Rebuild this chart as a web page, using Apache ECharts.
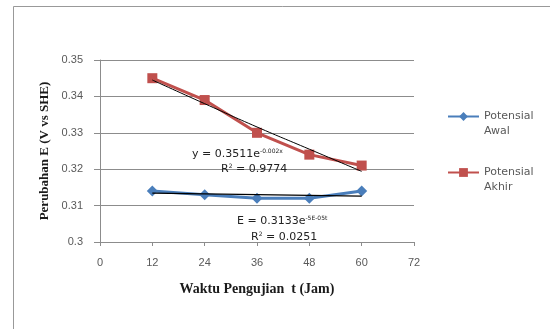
<!DOCTYPE html>
<html><head><meta charset="utf-8">
<script src="https://cdn.jsdelivr.net/npm/echarts@6/dist/echarts.min.js"></script>
<style>html,body{margin:0;padding:0;background:#fff}#c{width:550px;height:329px}</style>
</head><body><div id="c"></div>
<script>
var hours = [12, 24, 36, 48, 60];
var awal = [0.314, 0.313, 0.312, 0.312, 0.314];
var akhir = [0.345, 0.339, 0.330, 0.324, 0.321];
var trendAkhir = [0.3445, 0.3380, 0.3316, 0.3255, 0.3194];
var trendAwal = [0.3134, 0.3132, 0.3130, 0.3128, 0.3126];
var xTicks = [0, 12, 24, 36, 48, 60, 72];
var yTicks = [0.3, 0.31, 0.32, 0.33, 0.34, 0.35];
var names = ['Potensial Awal', 'Potensial Akhir'];

function pairs(xs, ys){ return xs.map(function(x,i){ return [x, ys[i]]; }); }

var chart = echarts.init(document.getElementById('c'), null, {renderer:'canvas'});
var grey = '#8c8c8c';
var annFont = {fontFamily:'DejaVu Sans', fontSize:11, fill:'#222'};
var supFont = {fontFamily:'DejaVu Sans', fontSize:6, fill:'#222', padding:[0,0,6,0]};
chart.setOption({
  animation:false,
  backgroundColor:'#fff',
  grid:{left:100, top:60, right:136, bottom:87},
  xAxis:{
    type:'value', min:xTicks[0], max:xTicks[xTicks.length-1], interval:12,
    name:'Waktu Pengujian  t (Jam)', nameLocation:'middle', nameGap:40,
    nameTextStyle:{fontFamily:'Liberation Serif', fontWeight:'bold', fontSize:14, color:'#1a1a1a'},
    axisLine:{lineStyle:{color:grey, width:1}},
    axisTick:{show:true, length:4, lineStyle:{color:grey}},
    axisLabel:{color:'#595959', fontFamily:'Liberation Sans', fontSize:11, margin:15},
    splitLine:{show:false}
  },
  yAxis:{
    type:'value', min:yTicks[0], max:yTicks[yTicks.length-1], interval:0.01,
    name:'Perubahan E (V vs SHE)', nameLocation:'middle', nameGap:45, nameRotate:90,
    nameTextStyle:{fontFamily:'Liberation Serif', fontWeight:'bold', fontSize:13, color:'#1a1a1a'},
    axisLine:{show:true, lineStyle:{color:grey, width:1}},
    axisTick:{show:true, length:6, lineStyle:{color:grey}},
    axisLabel:{color:'#595959', fontFamily:'Liberation Sans', fontSize:11, margin:17,
      formatter:function(v){ return String(+v.toFixed(2)); }},
    splitLine:{show:true, lineStyle:{color:'#8c8c8c', width:1}}
  },
  legend:{
    orient:'vertical', left:447, top:94, padding:0, itemGap:11, itemWidth:31, itemHeight:11,
    data:names,
    formatter:function(n){ return '\n' + n.replace(' ', '\n'); },
    textStyle:{color:'#595959', fontFamily:'DejaVu Sans', fontSize:11, lineHeight:15}
  },
  series:[
    {name:names[0], type:'line', data:pairs(hours, awal), color:'#4a7ebb',
     lineStyle:{width:3, color:'#4a7ebb'}, symbol:'diamond', symbolSize:11,
     itemStyle:{color:'#4a7ebb'}, z:2},
    {name:names[1], type:'line', data:pairs(hours, akhir), color:'#c0504d',
     lineStyle:{width:3, color:'#c0504d'}, symbol:'rect', symbolSize:10,
     itemStyle:{color:'#c0504d'}, z:2},
    {name:'trendAwal', type:'line', data:pairs(hours, trendAwal), showSymbol:false, symbol:'none',
     lineStyle:{width:1.3, color:'#000'}, z:3, silent:true},
    {name:'trendAkhir', type:'line', data:pairs(hours, trendAkhir), showSymbol:false, symbol:'none', smooth:true,
     lineStyle:{width:1, color:'#000'}, z:3, silent:true}
  ],
  graphic:[
    {type:'rect', shape:{x:13.5, y:6.5, width:600, height:400}, style:{fill:null, stroke:'#999', lineWidth:1}, z:-10},
    {type:'text', left:192, top:148, style:{text:'{a|y = 0.3511e}{s|-0.002x}', rich:{a:annFont, s:supFont}}, z:20},
    {type:'text', left:221, top:163, style:{text:'{a|R}{s|2}{a| = 0.9774}', rich:{a:annFont, s:supFont}}, z:20},
    {type:'text', left:237, top:215, style:{text:'{a|E = 0.3133e}{s|-5E-05t}', rich:{a:annFont, s:supFont}}, z:20},
    {type:'text', left:251, top:231, style:{text:'{a|R}{s|2}{a| = 0.0251}', rich:{a:annFont, s:supFont}}, z:20}
  ]
});
</script></body></html>
